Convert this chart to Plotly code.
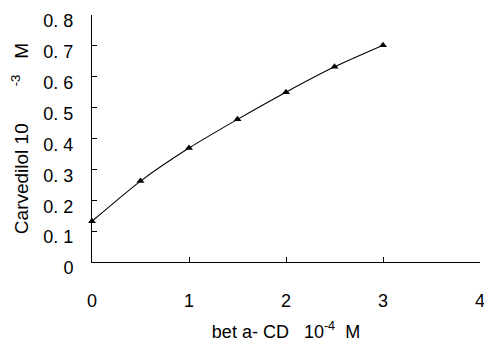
import plotly.graph_objects as go

beta_cd = [0, 0.5, 1, 1.5, 2, 2.5, 3]
carvedilol = [0.132, 0.262, 0.369, 0.462, 0.550, 0.632, 0.702]

x_tickvals = [0, 1, 2, 3, 4]
x_ticktext = ["0", "1", "2", "3", "4"]
y_tickvals = [0, 0.1, 0.2, 0.3, 0.4, 0.5, 0.6, 0.7, 0.8]
y_ticktext = ["0", "0. 1", "0. 2", "0. 3", "0. 4", "0. 5", "0. 6", "0. 7", "0. 8"]

NB = "\u00a0"
FAM = "Liberation Sans"
fig = go.Figure()
fig.add_trace(go.Scatter(
    x=beta_cd, y=carvedilol, mode="lines+markers",
    line=dict(color="black", width=1.1, shape="spline", smoothing=0.6),
    marker=dict(symbol="triangle-up", size=7, color="black"),
    showlegend=False, cliponaxis=False,
))

font = dict(family=FAM, color="black", size=18)
fig.update_layout(
    width=484, height=344,
    margin=dict(l=92, r=4, t=15, b=82),
    paper_bgcolor="white", plot_bgcolor="white",
    font=font,
    xaxis=dict(
        range=[0, 4], tickvals=x_tickvals, ticktext=x_ticktext,
        showgrid=False, zeroline=False, showline=True, linecolor="black", linewidth=1,
        ticks="inside", ticklen=5, tickcolor="black", tickwidth=1,
        ticklabelstandoff=22, ticklabeloverflow="allow", tickfont=font, automargin=False,
        title=dict(text="bet a- CD" + NB * 3 + "10<sup>-4</sup>" + NB * 2 + "M",
                   font=dict(family=FAM, size=18, color="black"), standoff=15),
    ),
    yaxis=dict(
        range=[0, 0.8], tickvals=y_tickvals, ticktext=y_ticktext,
        showgrid=False, zeroline=False, showline=True, linecolor="black", linewidth=1,
        ticks="inside", ticklen=5, tickcolor="black", tickwidth=1,
        ticklabelstandoff=14, ticklabelshift=6, ticklabeloverflow="allow", tickfont=font,
        automargin=False,
        title=dict(text="Carvedilol 10" + NB * 7 + "<sup>-3</sup>" + NB * 3 + "M",
                   font=dict(family=FAM, size=19, color="black"), standoff=9),
    ),
)
fig.write_html("out.html", config={"displayModeBar": False},
               post_script="document.body.style.margin='0';document.body.style.padding='0';")
